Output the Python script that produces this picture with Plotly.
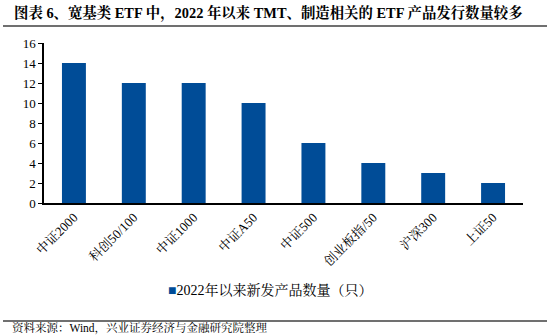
import plotly.graph_objects as go

categories = ["中证2000", "科创50/100", "中证1000", "中证A50", "中证500", "创业板指/50", "沪深300", "上证50"]
counts = [14, 12, 12, 10, 6, 4, 3, 2]
series_name = "2022年以来新发产品数量（只）"
title_text = "图表 6、宽基类 ETF 中，2022 年以来 TMT、制造相关的 ETF 产品发行数量较多"
source_text = "资料来源：Wind，兴业证券经济与金融研究院整理"

FONT = "Liberation Serif, Times New Roman, Noto Serif CJK SC, Noto Sans CJK SC, serif"
BLUE = "#004C97"

fig = go.Figure()
fig.add_trace(go.Bar(x=categories, y=counts, name=series_name, marker_color=BLUE,
                     marker_line_width=0, showlegend=False))

H0, H1 = 203, 43  # pixel rows of y=0 and y=16
def py(y):
    return (H0 - y) / (H0 - H1)
L, R = 44, 523
def px(x):
    return (x - L) / (R - L)

fig.update_layout(
    width=550, height=335,
    margin=dict(l=L, r=550 - R, t=H1, b=335 - H0),
    paper_bgcolor="white", plot_bgcolor="white",
    font=dict(family=FONT, size=12, color="black"),
    bargap=0.6,
    xaxis=dict(showline=True, linecolor="black", linewidth=1.5, ticks="",
               tickangle=-45, tickfont=dict(size=13), showgrid=False),
    yaxis=dict(range=[0, 16], dtick=2, showline=True, linecolor="black", linewidth=1.5,
               ticks="outside", ticklen=4, tickcolor="black", showgrid=False,
               zeroline=False, tickfont=dict(size=13)),
    shapes=[
        dict(type="line", xref="paper", yref="paper", x0=px(3), x1=px(547), y0=py(26), y1=py(26),
             line=dict(color="#707070", width=2)),
        dict(type="line", xref="paper", yref="paper", x0=px(3), x1=px(547), y0=py(321), y1=py(321),
             line=dict(color="#707070", width=2)),
    ],
    annotations=[
        dict(text="<b>" + title_text + "</b>", xref="paper", yref="paper", x=px(12), y=py(13),
             xanchor="left", yanchor="middle", showarrow=False, font=dict(size=14.4)),
        dict(text="<span style='color:%s'>■</span>%s" % (BLUE, series_name),
             xref="paper", yref="paper", x=px(166), y=py(290),
             xanchor="left", yanchor="middle", showarrow=False, font=dict(size=14)),
        dict(text=source_text, xref="paper", yref="paper", x=px(11), y=py(327.5),
             xanchor="left", yanchor="middle", showarrow=False, font=dict(size=11.5),
             borderpad=0),
    ],
)

fig.write_html("out.html")
